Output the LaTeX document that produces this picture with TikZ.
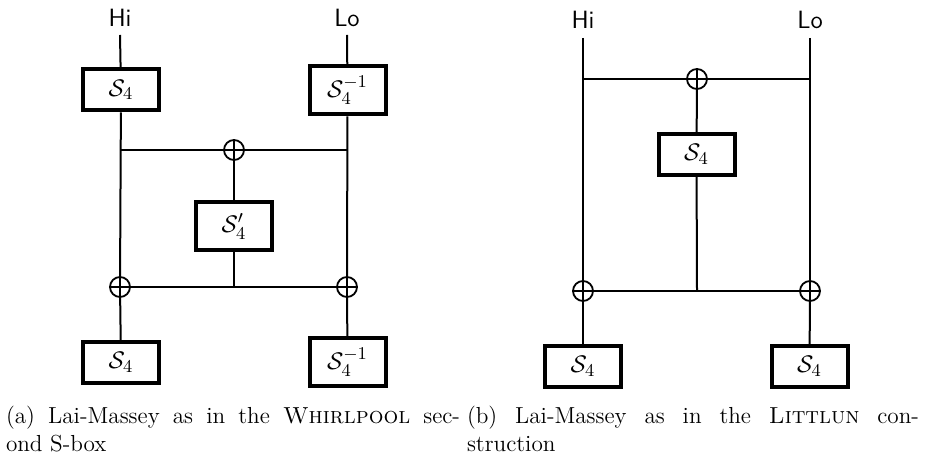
\documentclass[tikz,border=0pt]{standalone}
\usepackage{amsmath}
\begin{document}
\begin{tikzpicture}[x=0.5pt,y=-0.5pt,
  line width=1pt,
  sbox/.style={draw, line width=2pt, rectangle, inner sep=0pt, minimum width=38pt, minimum height=20.5pt, font=\fontsize{12.5}{15}\selectfont, fill=white},
  sboxt/.style={sbox, minimum height=24pt},
  xor/.style={circle, draw, line width=0.9pt, minimum size=10pt, inner sep=0pt, fill=white,
    path picture={\draw[line width=0.9pt] (path picture bounding box.north) -- (path picture bounding box.south) (path picture bounding box.west) -- (path picture bounding box.east);}},
  lbl/.style={font=\sffamily\fontsize{12.5}{15}\selectfont, inner sep=0pt},
  captxt/.style={anchor=base west, inner sep=0pt, font=\fontsize{11.6}{14}\selectfont}]
\useasboundingbox (0,0) rectangle (925,459);
% ---------- (a) ----------
\node[lbl] (hiA) at (120,18) {Hi};
\node[lbl] (loA) at (347,18) {Lo};
\coordinate (hiAs) at (120,35);
\coordinate (loAs) at (347,35);
\node[sbox] (s1) at (121,90) {$\mathcal{S}_4$};
\node[sboxt] (s2) at (347.5,90.5) {$\mathcal{S}_4^{-1}$};
\coordinate (tl) at (120,150);
\coordinate (tr) at (347,150);
\node[xor] (x1) at (234,150) {};
\node[sboxt] (s3) at (234,226.5) {$\mathcal{S}'_4$};
\node[xor] (x2) at (120,287) {};
\node[xor] (x3) at (347,287) {};
\coordinate (mb) at (234,287);
\node[sbox] (s4) at (121,362.5) {$\mathcal{S}_4$};
\node[sboxt] (s5) at (347.5,362) {$\mathcal{S}_4^{-1}$};
\draw (hiAs) -- (s1);
\draw (loAs) -- (s2);
\draw (s1) -- (x2);
\draw (s2) -- (x3);
\draw (tl) -- (x1) -- (tr);
\draw (x1) -- (s3);
\draw (s3) -- (mb);
\draw (x2) -- (x3);
\draw (x2) -- (s4);
\draw (x3) -- (s5);
% ---------- (b) ----------
\node[lbl] (hiB) at (583,20) {Hi};
\node[lbl] (loB) at (810,20) {Lo};
\coordinate (hiBs) at (583,38);
\coordinate (loBs) at (810,38);
\coordinate (btl) at (583,79);
\coordinate (btr) at (810,79);
\node[xor] (y1) at (697,79) {};
\node[sbox] (t1) at (696.5,154.5) {$\mathcal{S}_4$};
\node[xor] (y2) at (583,291) {};
\node[xor] (y3) at (810,291) {};
\coordinate (bmb) at (697,291);
\node[sbox] (t2) at (583,366.5) {$\mathcal{S}_4$};
\node[sbox] (t3) at (809.5,366.5) {$\mathcal{S}_4$};
\draw (hiBs) -- (y2);
\draw (loBs) -- (y3);
\draw (btl) -- (y1) -- (btr);
\draw (y1) -- (t1);
\draw (t1) -- (bmb);
\draw (y2) -- (y3);
\draw (y2) -- (t2);
\draw (y3) -- (t3);
% ---------- captions ----------
\node[captxt] (ca1) at (5,423) {\makebox[227pt][s]{(a) Lai-Massey as in the \textsc{Whirlpool} sec-}};
\node[captxt] (ca2) at (5,451) {ond S-box};
\node[captxt] (cb1) at (466,423) {\makebox[226pt][s]{(b) Lai-Massey as in the \textsc{Littlun} con-}};
\node[captxt] (cb2) at (466,451) {struction};
\end{tikzpicture}
\end{document}
